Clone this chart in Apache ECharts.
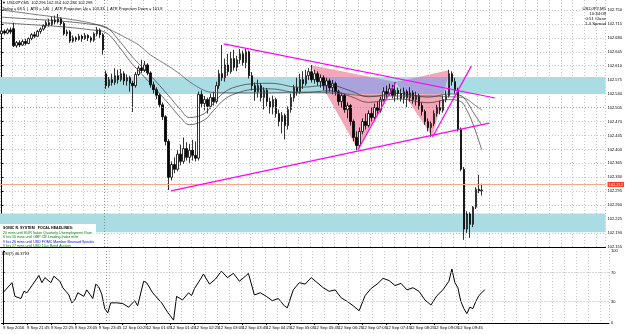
<!DOCTYPE html>
<html>
<head>
    <meta charset="utf-8">
    <title>USDJPY,M5</title>
    <script src="https://cdn.jsdelivr.net/npm/echarts@6/dist/echarts.min.js"></script>
    <style>html,body{margin:0;padding:0;background:#fff;}</style>
</head>
<body>
    <div id="main" style="width: 625px;height:334px;"></div>
    <script type="text/javascript">
        var chartDom = document.getElementById('main');
        var myChart = echarts.init(chartDom);
        var option;

        // time labels, one every 8 bars (M5)
        var tickLabels = ['9 Sep 2016', '9 Sep 21:45', '9 Sep 22:25', '9 Sep 23:05', '9 Sep 23:45',
            '12 Sep 00:25', '12 Sep 01:05', '12 Sep 01:45', '12 Sep 02:25', '12 Sep 03:05', '12 Sep 03:45',
            '12 Sep 04:25', '12 Sep 05:05', '12 Sep 05:45', '12 Sep 06:25', '12 Sep 07:05', '12 Sep 07:45',
            '12 Sep 08:25', '12 Sep 09:05', '12 Sep 09:45', '12 Sep 10:25'];
        var priceTicks = [102.155, 102.190, 102.225, 102.260, 102.295, 102.330, 102.365, 102.400, 102.435,
            102.470, 102.505, 102.540, 102.575, 102.610, 102.645, 102.680, 102.715, 102.750];
        var rsiTicks = [0, 30, 70, 100];
        var rsiLevels = [30, 70];

        // open, close, low, high
        var candles = [
            [102.690, 102.697, 102.686, 102.702], [102.697, 102.692, 102.688, 102.701],
            [102.692, 102.700, 102.689, 102.704], [102.700, 102.695, 102.690, 102.706],
            [102.703, 102.660, 102.657, 102.718], [102.660, 102.668, 102.655, 102.672],
            [102.668, 102.662, 102.657, 102.674], [102.662, 102.671, 102.660, 102.676],
            [102.671, 102.666, 102.661, 102.678], [102.666, 102.678, 102.664, 102.681],
            [102.678, 102.688, 102.674, 102.692], [102.688, 102.684, 102.679, 102.695],
            [102.684, 102.696, 102.682, 102.700], [102.696, 102.702, 102.690, 102.706],
            [102.702, 102.710, 102.698, 102.714], [102.710, 102.718, 102.705, 102.724],
            [102.718, 102.713, 102.708, 102.728], [102.713, 102.725, 102.710, 102.733],
            [102.725, 102.720, 102.714, 102.736], [102.720, 102.728, 102.716, 102.740],
            [102.728, 102.716, 102.711, 102.732], [102.716, 102.690, 102.686, 102.720],
            [102.690, 102.695, 102.684, 102.701], [102.695, 102.672, 102.667, 102.699],
            [102.672, 102.680, 102.668, 102.686], [102.680, 102.676, 102.670, 102.684],
            [102.676, 102.684, 102.673, 102.690], [102.684, 102.678, 102.670, 102.688],
            [102.678, 102.686, 102.675, 102.692], [102.686, 102.680, 102.672, 102.689],
            [102.680, 102.674, 102.668, 102.684], [102.674, 102.690, 102.670, 102.694],
            [102.690, 102.700, 102.684, 102.707], [102.700, 102.688, 102.680, 102.704],
            [102.688, 102.650, 102.638, 102.692], [102.590, 102.560, 102.552, 102.598],
            [102.560, 102.575, 102.555, 102.582], [102.575, 102.568, 102.560, 102.590],
            [102.568, 102.585, 102.562, 102.604], [102.585, 102.575, 102.565, 102.600],
            [102.575, 102.590, 102.570, 102.602], [102.590, 102.572, 102.562, 102.596],
            [102.572, 102.580, 102.560, 102.588], [102.580, 102.566, 102.545, 102.585],
            [102.566, 102.560, 102.494, 102.572], [102.560, 102.588, 102.555, 102.594],
            [102.588, 102.604, 102.584, 102.610], [102.604, 102.598, 102.592, 102.625],
            [102.598, 102.612, 102.594, 102.622], [102.612, 102.592, 102.586, 102.616],
            [102.592, 102.562, 102.555, 102.596], [102.562, 102.550, 102.540, 102.570],
            [102.550, 102.536, 102.526, 102.556], [102.536, 102.512, 102.505, 102.540],
            [102.512, 102.482, 102.474, 102.518], [102.482, 102.420, 102.410, 102.486],
            [102.420, 102.330, 102.298, 102.426], [102.330, 102.362, 102.322, 102.370],
            [102.362, 102.350, 102.340, 102.380], [102.350, 102.388, 102.345, 102.398],
            [102.388, 102.370, 102.360, 102.412], [102.370, 102.402, 102.364, 102.430],
            [102.402, 102.380, 102.372, 102.418], [102.380, 102.398, 102.366, 102.414],
            [102.398, 102.385, 102.372, 102.424], [102.385, 102.378, 102.370, 102.420],
            [102.378, 102.538, 102.372, 102.545], [102.538, 102.515, 102.505, 102.548],
            [102.515, 102.525, 102.498, 102.534], [102.525, 102.508, 102.490, 102.530],
            [102.508, 102.530, 102.502, 102.540], [102.530, 102.520, 102.510, 102.545],
            [102.520, 102.560, 102.515, 102.570], [102.560, 102.590, 102.552, 102.600],
            [102.590, 102.580, 102.572, 102.662], [102.580, 102.612, 102.570, 102.628],
            [102.612, 102.595, 102.585, 102.640], [102.595, 102.628, 102.590, 102.645],
            [102.628, 102.606, 102.598, 102.650], [102.606, 102.625, 102.596, 102.635],
            [102.625, 102.640, 102.615, 102.652], [102.640, 102.618, 102.610, 102.648],
            [102.618, 102.645, 102.604, 102.652], [102.645, 102.585, 102.578, 102.648],
            [102.585, 102.560, 102.548, 102.594], [102.560, 102.545, 102.522, 102.568],
            [102.545, 102.560, 102.530, 102.575], [102.560, 102.530, 102.520, 102.566],
            [102.530, 102.548, 102.500, 102.556], [102.548, 102.520, 102.508, 102.554],
            [102.520, 102.505, 102.490, 102.530], [102.505, 102.525, 102.488, 102.535],
            [102.525, 102.490, 102.480, 102.530], [102.490, 102.470, 102.458, 102.500],
            [102.470, 102.485, 102.440, 102.494], [102.485, 102.460, 102.425, 102.490],
            [102.460, 102.500, 102.450, 102.508], [102.500, 102.530, 102.492, 102.540],
            [102.530, 102.555, 102.520, 102.562], [102.555, 102.545, 102.535, 102.580],
            [102.545, 102.575, 102.540, 102.590], [102.575, 102.565, 102.552, 102.596],
            [102.565, 102.585, 102.560, 102.600], [102.585, 102.595, 102.574, 102.604],
            [102.595, 102.575, 102.568, 102.612], [102.575, 102.590, 102.565, 102.600],
            [102.590, 102.570, 102.560, 102.596], [102.570, 102.580, 102.555, 102.588],
            [102.580, 102.560, 102.548, 102.586], [102.560, 102.572, 102.540, 102.580],
            [102.572, 102.555, 102.545, 102.578], [102.555, 102.565, 102.538, 102.574],
            [102.565, 102.545, 102.535, 102.570], [102.545, 102.520, 102.510, 102.550],
            [102.520, 102.535, 102.505, 102.542], [102.535, 102.500, 102.492, 102.540],
            [102.500, 102.510, 102.478, 102.518], [102.510, 102.470, 102.460, 102.514],
            [102.470, 102.430, 102.420, 102.475], [102.430, 102.410, 102.398, 102.445],
            [102.410, 102.445, 102.404, 102.455], [102.445, 102.470, 102.438, 102.478],
            [102.470, 102.460, 102.450, 102.490], [102.460, 102.490, 102.455, 102.498],
            [102.490, 102.480, 102.470, 102.505], [102.480, 102.505, 102.472, 102.515],
            [102.505, 102.498, 102.488, 102.520], [102.498, 102.525, 102.492, 102.532],
            [102.525, 102.545, 102.520, 102.556], [102.545, 102.540, 102.528, 102.560],
            [102.540, 102.552, 102.535, 102.565], [102.552, 102.535, 102.528, 102.562],
            [102.535, 102.548, 102.520, 102.568], [102.548, 102.540, 102.525, 102.555],
            [102.540, 102.528, 102.520, 102.552], [102.528, 102.545, 102.515, 102.555],
            [102.545, 102.530, 102.506, 102.550], [102.530, 102.542, 102.520, 102.556],
            [102.542, 102.525, 102.515, 102.548], [102.525, 102.535, 102.510, 102.545],
            [102.535, 102.510, 102.500, 102.540], [102.510, 102.495, 102.485, 102.518],
            [102.495, 102.470, 102.462, 102.500], [102.470, 102.455, 102.445, 102.478],
            [102.455, 102.465, 102.431, 102.470], [102.465, 102.490, 102.458, 102.498],
            [102.490, 102.505, 102.482, 102.512], [102.505, 102.498, 102.488, 102.522],
            [102.498, 102.525, 102.492, 102.535], [102.525, 102.535, 102.518, 102.548],
            [102.535, 102.590, 102.530, 102.600], [102.590, 102.570, 102.560, 102.596],
            [102.570, 102.548, 102.540, 102.580], [102.548, 102.450, 102.445, 102.555],
            [102.450, 102.350, 102.345, 102.455], [102.350, 102.200, 102.173, 102.356],
            [102.200, 102.238, 102.190, 102.245], [102.238, 102.212, 102.178, 102.242],
            [102.212, 102.255, 102.205, 102.258], [102.255, 102.300, 102.250, 102.305],
            [102.300, 102.296, 102.290, 102.336], [102.296, 102.298, 102.284, 102.314]
        ];

        // moving averages read at sample bars
        var maBars = [0, 10, 20, 30, 35, 40, 43, 46, 50, 56, 60, 63, 68, 71, 75, 80, 85, 90, 100, 110,
            117, 123, 133, 143, 150, 154, 156, 158, 161];
        var ema89 = [102.750, 102.740, 102.730, 102.717, 102.705, 102.687, 102.675, 102.662, 102.637, 102.609,
            102.588, 102.570, 102.548, 102.543, 102.542, 102.542, 102.542, 102.542, 102.544, 102.542,
            102.538, 102.534, 102.534, 102.534, 102.532, 102.531, 102.526, 102.515, 102.499];
        var dragonHigh = [102.732, 102.727, 102.722, 102.714, 102.707, 102.668, 102.640, 102.615, 102.585, 102.535,
            102.500, 102.480, 102.490, 102.515, 102.545, 102.560, 102.565, 102.566, 102.556, 102.561,
            102.547, 102.532, 102.541, 102.531, 102.539, 102.535, 102.520, 102.495, 102.461];
        var dragonLow = [102.718, 102.713, 102.708, 102.700, 102.693, 102.652, 102.622, 102.597, 102.565, 102.515,
            102.480, 102.462, 102.474, 102.497, 102.527, 102.544, 102.551, 102.552, 102.542, 102.547,
            102.533, 102.518, 102.527, 102.517, 102.525, 102.520, 102.498, 102.465, 102.399];

        // RSI(7) read at sample bars
        var rsiBars = [0, 3, 4, 6, 7, 8, 10, 12, 13, 14, 16, 17, 19, 20, 22, 23, 24, 25, 27, 28, 30, 31, 32, 33, 34,
            35, 36, 38, 40, 42, 44, 45, 47, 48, 50, 53, 55, 57, 58, 60, 62, 63, 64, 66, 67, 69, 71, 73, 75, 77,
            79, 81, 82, 84, 86, 88, 90, 92, 94, 95, 97, 99, 101, 103, 105, 107, 109, 111, 113, 115, 117, 119,
            121, 123, 125, 127, 129, 131, 133, 135, 137, 139, 141, 143, 145, 147, 149, 150, 151, 152, 153, 154,
            155, 156, 157, 158, 159, 160, 161];
        var rsiValues = [42, 56, 37, 34, 44, 42, 54, 66, 56, 63, 56, 65, 58, 49, 39, 28, 32, 42, 37, 46, 34, 54, 50,
            40, 20, 14, 28, 28, 27, 22, 31, 24, 58, 56, 42, 28, 15, 4, 37, 32, 42, 38, 48, 61, 68, 54, 61, 72, 63,
            69, 58, 65, 69, 39, 42, 37, 31, 34, 24, 21, 46, 56, 54, 63, 56, 49, 44, 46, 35, 30, 24, 17, 38, 48, 54,
            62, 59, 52, 55, 46, 49, 44, 32, 25, 38, 46, 58, 75, 56, 49, 30, 20, 13, 22, 20, 30, 38, 42, 46.38];

        // objects on the chart (bar position, price)
        var zoneBands = [[102.539, 102.582], [102.192, 102.239]];
        var trendLines = [
            [74.5, 102.665, 165.5, 102.529],
            [56.8, 102.296, 163.5, 102.466],
            [119.5, 102.399, 132.2, 102.569],
            [144.5, 102.431, 157.5, 102.609]
        ];
        var harmonicTriangles = [
            [103.5, 102.612, 119.5, 102.399, 132.2, 102.569],
            [132.2, 102.569, 144.5, 102.431, 150.2, 102.599]
        ];
        var periodBreaks = [34.5];
        var askPrice = 102.312;
        var bidPrice = 102.298;
        var refLine = 102.506;

        var headerLines = ['\u25BC USDJPY,M5  102.296 102.314 102.284 102.298',
            'Today = 68.5  |  ATR = 146  |  ATR Projection Up = 103.33  |  ATR Projection Down = 101.8'];
        var infoLines = ['USDJPY,M5', '10:34:09', '0:51 Close', '1.4 Spread'];
        var headlines = [
            ['SONIC R. SYSTEM   FOCAL HEADLINES:', '#000000'],
            ['20 mins until EUR Italian Quarterly Unemployment Rate', '#008000'],
            ['6 hrs 50 mins until GBP CB Leading Index m/m', '#008000'],
            ['9 hrs 26 mins until USD FOMC Member Brainard Speaks', '#0000ff'],
            ['9 hrs 27 mins until USD 10-y Bond Auction', '#008000']
        ];
        var rsiTitle = 'RSI(7) 46.3793';

        var slotCount = 203;
        var slots = [];
        for (var i = 0; i < slotCount; i++) slots.push(String(i));

        function pairs(xs, ys) {
            return xs.map(function (x, k) { return [x, ys[k]]; });
        }

        var FONT = 'Liberation Sans';
        var BAND = '#a9dde3';
        var PINK = '#f4a7b8';
        var PURPLE = '#aaa2dc';

        function clipY(pts, yMin, yMax) {
            function clip(poly, inside, cross) {
                var out = [];
                for (var i = 0; i < poly.length; i++) {
                    var cur = poly[i], prev = poly[(i + poly.length - 1) % poly.length];
                    var cin = inside(cur), pin = inside(prev);
                    if (cin) {
                        if (!pin) out.push(cross(prev, cur));
                        out.push(cur);
                    } else if (pin) {
                        out.push(cross(prev, cur));
                    }
                }
                return out;
            }
            function atY(y) {
                return function (a, b) {
                    var t = (y - a[1]) / (b[1] - a[1]);
                    return [a[0] + t * (b[0] - a[0]), y];
                };
            }
            var p = clip(pts, function (q) { return q[1] >= yMin; }, atY(yMin));
            if (!p.length) return p;
            return clip(p, function (q) { return q[1] <= yMax; }, atY(yMax));
        }

        var dottedGrid = { show: true, lineStyle: { color: '#c4c4c4', type: [1, 2], width: 1 } };

        var graphics = [];
        headerLines.forEach(function (t, k) {
            graphics.push({ type: 'text', z: 100, silent: true,
                style: { text: t, x: 2, y: 3 + k * 6, fill: '#000', font: '4px "' + FONT + '"', textVerticalAlign: 'middle' } });
        });
        infoLines.forEach(function (t, k) {
            graphics.push({ type: 'text', z: 100, silent: true,
                style: { text: t, x: 606, y: 9 + k * 5, fill: '#000', font: '4.3px "' + FONT + '"', textAlign: 'right', textVerticalAlign: 'middle' } });
        });
        graphics.push({ type: 'rect', z: 90, silent: true, shape: { x: 0, y: 224, width: 96, height: 23 }, style: { fill: '#fff' } });
        headlines.forEach(function (h, k) {
            graphics.push({ type: 'text', z: 100, silent: true,
                style: { text: h[0], x: 3, y: 228 + k * 4.5, fill: h[1], font: (k === 0 ? 'bold ' : '') + '3.6px "' + FONT + '"', textVerticalAlign: 'middle' } });
        });
        graphics.push({ type: 'text', z: 100, silent: true,
            style: { text: rsiTitle, x: 2, y: 254, fill: '#000', font: '4px "' + FONT + '"', textVerticalAlign: 'middle' } });

        option = {
            animation: false,
            backgroundColor: '#ffffff',
            textStyle: { fontFamily: FONT },
            graphic: graphics,
            grid: [
                { left: 0, right: 16, top: 0, height: 247 },
                { left: 0, right: 16, top: 251, height: 72 }
            ],
            xAxis: [
                {
                    type: 'category', gridIndex: 0, data: slots, boundaryGap: true,
                    axisLine: { lineStyle: { color: '#000', width: 1 } },
                    axisTick: { show: false }, axisLabel: { show: false },
                    splitLine: Object.assign({ interval: 3 }, dottedGrid)
                },
                { type: 'value', gridIndex: 0, min: -0.5, max: slotCount - 0.5, show: false },
                {
                    type: 'category', gridIndex: 1, data: slots, boundaryGap: true,
                    axisLine: { lineStyle: { color: '#000', width: 1 } },
                    axisTick: {
                        show: true, length: 2, alignWithLabel: true, lineStyle: { color: '#000' },
                        interval: function (idx) { return idx % 8 === 0 && idx / 8 < tickLabels.length; }
                    },
                    axisLabel: {
                        fontSize: 4.2, color: '#000', align: 'left', margin: 3, fontFamily: FONT,
                        interval: function (idx) { return idx % 8 === 0 && idx / 8 < tickLabels.length; },
                        formatter: function (v, idx) { return tickLabels[idx / 8] || ''; }
                    },
                    splitLine: Object.assign({ interval: 3 }, dottedGrid)
                },
                { type: 'value', gridIndex: 1, min: -0.5, max: slotCount - 0.5, show: false }
            ],
            yAxis: [
                {
                    type: 'value', gridIndex: 0, position: 'right', min: 102.155, max: 102.775, scale: true,
                    axisLine: { show: true, lineStyle: { color: '#000' } },
                    axisTick: { show: true, length: 2, customValues: priceTicks, lineStyle: { color: '#000' } },
                    axisLabel: {
                        customValues: priceTicks, fontSize: 4, color: '#000', margin: 2, fontFamily: FONT,
                        formatter: function (v) { return v.toFixed(3); }
                    },
                    splitLine: dottedGrid
                },
                {
                    type: 'value', gridIndex: 1, position: 'right', min: 0, max: 100,
                    axisLine: { show: true, lineStyle: { color: '#000' } },
                    axisTick: { show: true, length: 2, customValues: rsiTicks, lineStyle: { color: '#000' } },
                    axisLabel: { customValues: rsiTicks, fontSize: 4, color: '#000', margin: 2, fontFamily: FONT },
                    splitLine: { show: false }
                }
            ],
            series: [
                {
                    type: 'custom', name: 'zones', xAxisIndex: 1, yAxisIndex: 0, z: 1, silent: true,
                    data: zoneBands,
                    encode: { x: -1, y: [0, 1] },
                    renderItem: function (params, api) {
                        var cs = params.coordSys;
                        var yTop = api.coord([0, api.value(1)])[1];
                        var yBot = api.coord([0, api.value(0)])[1];
                        return { type: 'rect', shape: { x: cs.x, y: yTop, width: cs.width, height: yBot - yTop },
                            style: { fill: BAND } };
                    }
                },
                {
                    type: 'custom', name: 'harmonic', xAxisIndex: 1, yAxisIndex: 0, z: 2, silent: true,
                    data: harmonicTriangles,
                    encode: { x: [0, 2, 4], y: [1, 3, 5] },
                    renderItem: function (params, api) {
                        var pts = [
                            api.coord([api.value(0), api.value(1)]),
                            api.coord([api.value(2), api.value(3)]),
                            api.coord([api.value(4), api.value(5)])
                        ];
                        var yTop = api.coord([0, zoneBands[0][1]])[1];
                        var yBot = api.coord([0, zoneBands[0][0]])[1];
                        var over = clipY(pts, yTop, yBot);
                        var children = [{ type: 'polygon', shape: { points: pts }, style: { fill: PINK } }];
                        if (over.length > 2) {
                            children.push({ type: 'polygon', shape: { points: over }, style: { fill: PURPLE } });
                        }
                        return { type: 'group', children: children };
                    }
                },
                {
                    type: 'custom', name: 'separator', xAxisIndex: 1, yAxisIndex: 0, z: 2, silent: true,
                    data: periodBreaks.map(function (b) { return [b]; }),
                    encode: { x: 0, y: -1 },
                    renderItem: function (params, api) {
                        var cs = params.coordSys;
                        var x = Math.round(api.coord([api.value(0), 102.4])[0]) + 0.5;
                        return { type: 'line', shape: { x1: x, y1: cs.y, x2: x, y2: cs.y + cs.height },
                            style: { stroke: '#8c8c8c', lineWidth: 1, lineDash: [1, 2] } };
                    }
                },
                {
                    type: 'custom', name: 'separatorRsi', xAxisIndex: 3, yAxisIndex: 1, z: 2, silent: true,
                    data: periodBreaks.map(function (b) { return [b]; }),
                    encode: { x: 0, y: -1 },
                    renderItem: function (params, api) {
                        var cs = params.coordSys;
                        var x = Math.round(api.coord([api.value(0), 50])[0]) + 0.5;
                        return { type: 'line', shape: { x1: x, y1: cs.y, x2: x, y2: cs.y + cs.height },
                            style: { stroke: '#8c8c8c', lineWidth: 1, lineDash: [1, 2] } };
                    }
                },
                {
                    type: 'candlestick', name: 'USDJPY,M5', xAxisIndex: 0, yAxisIndex: 0, z: 3,
                    data: candles, barWidth: 2,
                    itemStyle: { color: '#ffffff', color0: '#000000', borderColor: '#000000', borderColor0: '#000000', borderWidth: 0.8 },
                    markLine: {
                        silent: true, symbol: 'none', animation: false, precision: 3,
                        data: [
                            {
                                yAxis: refLine, lineStyle: { color: '#ef7d7d', type: [1, 2], width: 1 },
                                label: { show: false }
                            },
                            {
                                yAxis: askPrice, lineStyle: { color: '#f6a68a', type: 'solid', width: 1 },
                                label: { show: true, position: 'end', distance: 2, formatter: askPrice.toFixed(3),
                                    backgroundColor: '#ff3a1a', color: '#fff', fontSize: 4, padding: [1, 1, 0, 1], fontFamily: FONT }
                            },
                            {
                                yAxis: bidPrice, lineStyle: { opacity: 0 },
                                label: { show: true, position: 'end', distance: 2, formatter: bidPrice.toFixed(3),
                                    backgroundColor: '#000', color: '#fff', fontSize: 4, padding: [1, 1, 0, 1], fontFamily: FONT }
                            }
                        ]
                    }
                },
                {
                    type: 'line', name: 'EMA89', xAxisIndex: 0, yAxisIndex: 0, z: 4, silent: true,
                    data: pairs(maBars, ema89), symbol: 'none', smooth: 0.4,
                    lineStyle: { color: '#5a5a5a', width: 0.8 }
                },
                {
                    type: 'line', name: 'EMA34 High', xAxisIndex: 0, yAxisIndex: 0, z: 4, silent: true,
                    data: pairs(maBars, dragonHigh), symbol: 'none', smooth: 0.4,
                    lineStyle: { color: '#333333', width: 0.7 }
                },
                {
                    type: 'line', name: 'EMA34 Low', xAxisIndex: 0, yAxisIndex: 0, z: 4, silent: true,
                    data: pairs(maBars, dragonLow), symbol: 'none', smooth: 0.4,
                    lineStyle: { color: '#333333', width: 0.7 }
                },
                {
                    type: 'custom', name: 'trendlines', xAxisIndex: 1, yAxisIndex: 0, z: 5, silent: true,
                    data: trendLines,
                    encode: { x: [0, 2], y: [1, 3] },
                    renderItem: function (params, api) {
                        var p1 = api.coord([api.value(0), api.value(1)]);
                        var p2 = api.coord([api.value(2), api.value(3)]);
                        return { type: 'line', shape: { x1: p1[0], y1: p1[1], x2: p2[0], y2: p2[1] },
                            style: { stroke: '#ff00ff', lineWidth: 1.2 } };
                    }
                },
                {
                    type: 'line', name: 'RSI(7)', xAxisIndex: 2, yAxisIndex: 1, z: 4, silent: true,
                    data: pairs(rsiBars, rsiValues), symbol: 'none',
                    lineStyle: { color: '#000', width: 1 },
                    markLine: {
                        silent: true, symbol: 'none', animation: false,
                        label: { show: false },
                        lineStyle: { color: '#b0b0b0', type: [1, 2], width: 1 },
                        data: rsiLevels.map(function (v) { return { yAxis: v }; })
                    }
                }
            ]
        };

        option && myChart.setOption(option);
    </script>
</body>
</html>
